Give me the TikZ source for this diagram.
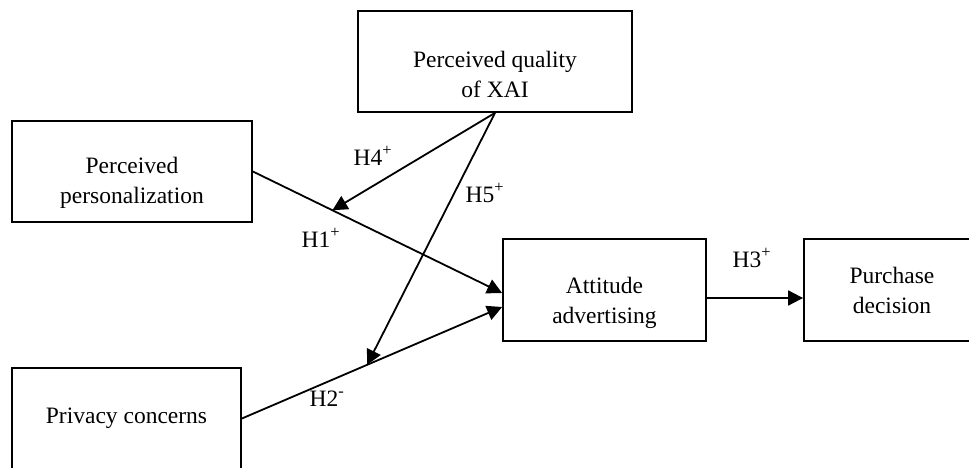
\documentclass[tikz,border=0pt]{standalone}
\usepackage{fontspec}
\setmainfont{Liberation Serif}
\usetikzlibrary{arrows.meta}
\newcommand{\topgap}[1]{\rule{0pt}{#1}}
\tikzset{
  var/.style={draw, line width=1.8pt, minimum height=101pt, align=center, inner sep=0pt},
  hyp/.style={line width=1.8pt, -{Triangle[length=15pt,width=15pt]}},
}
\begin{document}
\begin{tikzpicture}[x=1pt,y=-1pt,font=\fontsize{23.5}{30}\selectfont]
\useasboundingbox (0,0) rectangle (969,468);
\clip (0,0) rectangle (969,468);
\node[var, minimum width=274pt] (xai) at (495,61.5) {\topgap{42pt}Perceived quality\\of XAI};
\node[var, minimum width=240pt] (pers) at (132,171.5) {\topgap{40pt}Perceived\\personalization};
\node[var, minimum width=229pt] (priv) at (126.5,418.5) {Privacy concerns};
\node[var, minimum width=203pt, minimum height=102pt] (att) at (604.5,290) {\topgap{42pt}Attitude\\advertising};
\node[var, minimum width=176pt, minimum height=102pt] (pur) at (892,290) {Purchase\\decision};
\coordinate (in1) at ([yshift=-3pt]att.west);
\coordinate (in2) at ([yshift=-17pt]att.west);
\draw[hyp] (pers.east) -- coordinate[pos=0.319] (m1) (in1);
\draw[hyp] (priv.east) -- coordinate[pos=0.481] (m2) (in2);
\draw[hyp] (xai.south) -- (m1);
\draw[hyp] (xai.south) -- (m2);
\draw[hyp] ([yshift=-8pt]att.east) -- ([yshift=-8pt]pur.west);
\node[anchor=base west] (h1) at (298,247) {H1\textsuperscript{+}};
\node[anchor=base west] (h2) at (306,406) {H2\textsuperscript{-}};
\node[anchor=base west] (h3) at (729,267) {H3\textsuperscript{+}};
\node[anchor=base west] (h4) at (350,165) {H4\textsuperscript{+}};
\node[anchor=base west] (h5) at (462,202) {H5\textsuperscript{+}};
\end{tikzpicture}
\end{document}
